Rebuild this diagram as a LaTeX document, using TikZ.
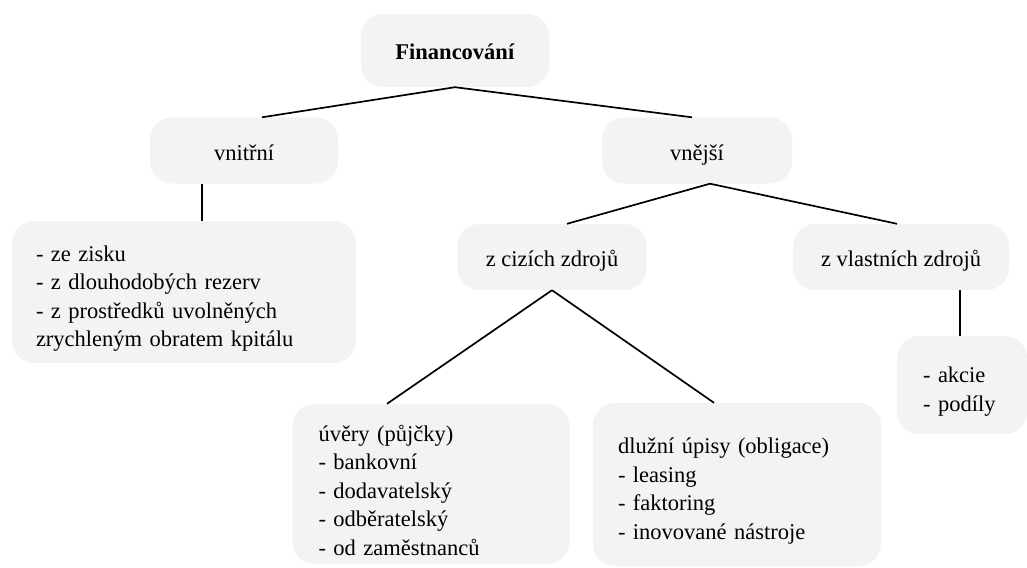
\documentclass[tikz,border=0pt]{standalone}
\usepackage{fontspec}
\setmainfont{Liberation Serif}
\definecolor{boxgray}{RGB}{243,243,243}
\tikzset{
  box/.style={fill=boxgray, rounded corners=22pt, inner sep=0pt,
    font=\fontsize{22.5}{28.5}\selectfont},
  onebox/.style={box, text height=20pt, text depth=1pt},
  listbox/.style={box, align=left, execute at begin node={\rule{0pt}{29pt}}},
  link/.style={line width=1.7pt}
}

\begin{document}
\begin{tikzpicture}[x=1pt,y=-1pt]
	\useasboundingbox (0,0) rectangle (1027,567);
	% single line boxes
	\foreach \N/\X/\Y/\W/\T in {vnitrni/244/150.5/188/vnitřní, vnejsi/697/150.5/190/vnější,
	cizi/552/257/189/z cizích zdrojů, vlastni/901/257/216/z vlastních zdrojů}
	{\node[onebox, minimum width=\W pt, minimum height=66pt] (\N) at (\X,\Y) {\T};}
	\node[onebox, minimum width=188pt, minimum height=73pt] (fin) at (455,50.5) {\textbf{Financování}};
	% list boxes
	\node[listbox, minimum height=142pt, text width=296pt, inner xsep=24pt] (zisk) at (184,292)
	{- ze zisku\\- z dlouhodobých rezerv\\- z prostředků uvolněných\\zrychleným obratem kpitálu};
	\node[listbox, minimum height=98pt, text width=78pt, inner xsep=26pt] (akcie) at (962,385)
	{- akcie\\- podíly};
	\node[listbox, minimum height=160pt, text width=225pt, inner xsep=26pt] (uvery) at (431,484)
	{úvěry (půjčky)\\- bankovní\\- dodavatelský\\- odběratelský\\- od zaměstnanců};
	\node[listbox, minimum height=163pt, text width=238pt, inner xsep=25pt] (upisy) at (737,484.5)
	{dlužní úpisy (obligace)\\- leasing\\- faktoring\\- inovované nástroje};
	% connectors
	\foreach \A/\SA/\B/\SB in {fin/0pt/vnitrni/18pt, fin/0pt/vnejsi/-5pt,
	vnitrni/-42pt/zisk/18pt, vnejsi/13pt/cizi/15pt, vnejsi/13pt/vlastni/-4pt,
	vlastni/59pt/akcie/-2pt, cizi/0pt/uvery/-44pt, cizi/0pt/upisy/-23pt}
	{\draw[link] ([xshift=\SA]\A.south) -- ([xshift=\SB]\B.north);}
\end{tikzpicture}
\end{document}
